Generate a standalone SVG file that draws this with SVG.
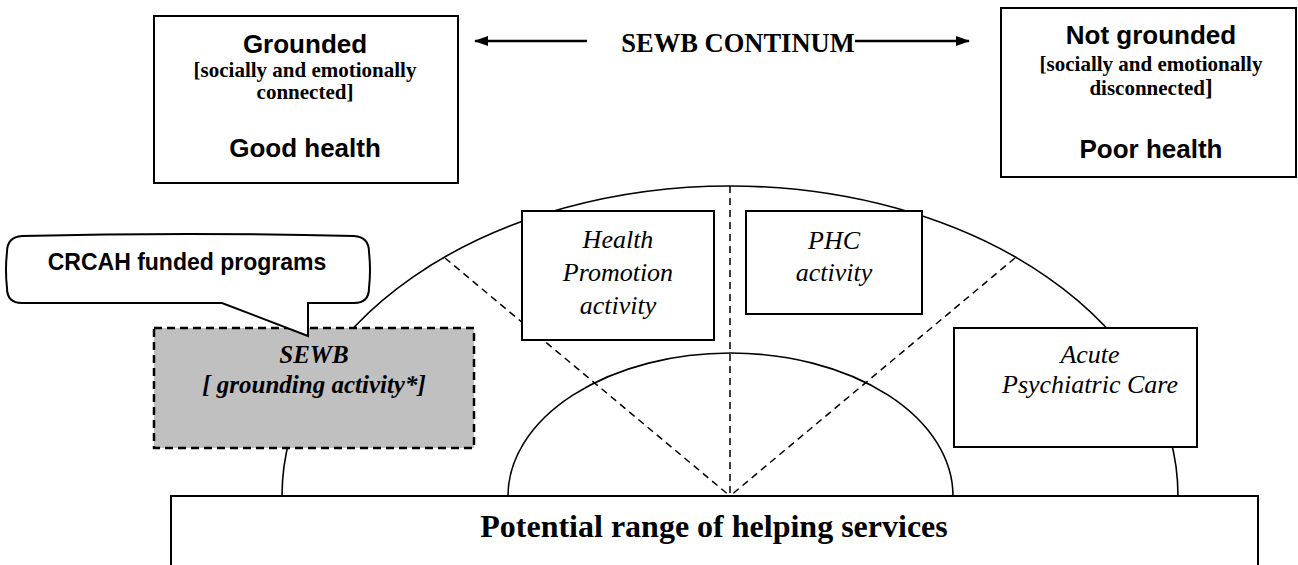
<svg xmlns="http://www.w3.org/2000/svg" width="1298" height="565" viewBox="0 0 1298 565">
<style>
.box{fill:#fff;stroke:#000;stroke-width:2}
.arc{fill:none;stroke:#000;stroke-width:1.6}
.dash{fill:none;stroke:#000;stroke-width:1.5;stroke-dasharray:7 5}
.sansb{font-family:"Liberation Sans",Arial,sans-serif;font-weight:bold;fill:#000;text-anchor:middle}
.serifb{font-family:"Liberation Serif","Times New Roman",serif;font-weight:bold;fill:#000;text-anchor:middle}
.serifi{font-family:"Liberation Serif","Times New Roman",serif;font-style:italic;fill:#000;text-anchor:middle;font-size:26px}
.serifbi{font-family:"Liberation Serif","Times New Roman",serif;font-style:italic;font-weight:bold;fill:#000;text-anchor:middle;font-size:25px}
</style>
<defs>
<marker id="ah" viewBox="0 0 14 10" refX="13" refY="5" markerWidth="14" markerHeight="10" markerUnits="userSpaceOnUse" orient="auto">
<path d="M0,0 L14,5 L0,10 Z" fill="#000"/>
</marker>
</defs>
<rect width="1298" height="565" fill="#fff"/>

<g id="connectors">
<path class="arc" d="M282,496 A448,310 0 0 1 1178,496"/>
<path class="arc" d="M508,496 A222.5,143 0 0 1 953,496"/>
<line class="dash" x1="730" y1="186" x2="730" y2="496"/>
<line class="dash" x1="445" y1="258" x2="730" y2="496"/>
<line class="dash" x1="1015" y1="258" x2="730" y2="496"/>
<line x1="587" y1="41" x2="475" y2="41" stroke="#000" stroke-width="2.5" marker-end="url(#ah)"/>
<line x1="855" y1="41" x2="969" y2="41" stroke="#000" stroke-width="2.5" marker-end="url(#ah)"/>
</g>

<g id="continuum-label">
<text class="serifb" x="738" y="52" font-size="26.5">SEWB CONTINUM</text>
</g>

<g id="grounded">
<rect class="box" x="154" y="16" width="304" height="167"/>
<text class="sansb" x="305" y="53" font-size="26">Grounded</text>
<text class="serifb" x="305" y="77" font-size="21">[socially and emotionally</text>
<text class="serifb" x="305" y="99" font-size="21">connected]</text>
<text class="sansb" x="305" y="157" font-size="26">Good health</text>
</g>

<g id="not-grounded">
<rect class="box" x="1001" y="8" width="295" height="169"/>
<text class="sansb" x="1151" y="44" font-size="26">Not grounded</text>
<text class="serifb" x="1151" y="71" font-size="21">[socially and emotionally</text>
<text class="serifb" x="1151" y="95" font-size="21">disconnected<tspan font-size="23">]</tspan></text>
<text class="sansb" x="1151" y="158" font-size="26">Poor health</text>
</g>

<g id="health-promotion">
<rect class="box" x="522" y="211" width="192" height="129"/>
<text class="serifi" x="618" y="248">Health</text>
<text class="serifi" x="618" y="281">Promotion</text>
<text class="serifi" x="618" y="314">activity</text>
</g>

<g id="phc">
<rect class="box" x="746" y="211" width="176" height="103"/>
<text class="serifi" x="834" y="249">PHC</text>
<text class="serifi" x="834" y="281">activity</text>
</g>

<g id="acute">
<rect class="box" x="954" y="328" width="243" height="119"/>
<text class="serifi" x="1090" y="363">Acute</text>
<text class="serifi" x="1090" y="393">Psychiatric Care</text>
</g>

<g id="sewb">
<rect x="154" y="328" width="320" height="120" fill="#c0c0c0" stroke="#000" stroke-width="2.5" stroke-dasharray="8 5"/>
<text class="serifbi" x="314" y="363">SEWB</text>
<text class="serifbi" x="314" y="393">[ grounding activity*]</text>
</g>

<g id="callout">
<path d="M22,236 Q188,232 354,236 Q369,237 369,252 Q371,270 369,288 Q369,303 354,303 L308,303 L308,336 L222,303 L22,303 Q7,303 7,288 Q5,270 7,252 Q7,237 22,236 Z" fill="#fff" stroke="#000" stroke-width="2"/>
<text class="sansb" x="187" y="270" font-size="23">CRCAH funded programs</text>
</g>

<g id="helping-services">
<rect class="box" x="171" y="496" width="1087" height="90"/>
<text class="serifb" x="714" y="537" font-size="32">Potential range of helping services</text>
</g>
</svg>
